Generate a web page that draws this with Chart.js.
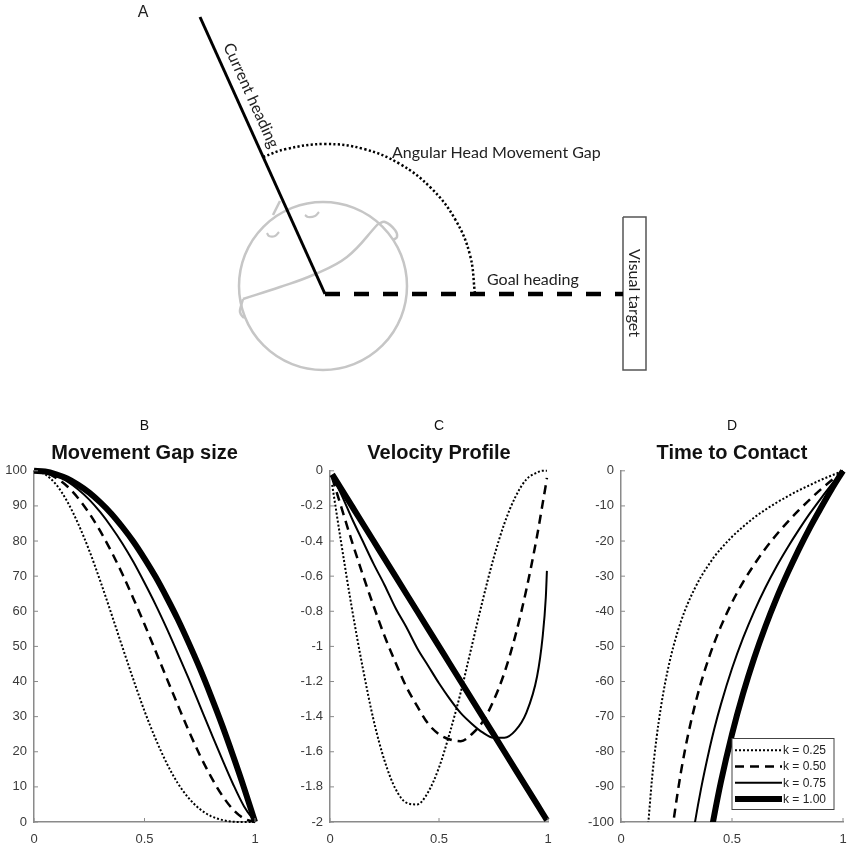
<!DOCTYPE html>
<html>
<head>
<meta charset="utf-8">
<title>Head movement gap panels</title>
<script src="https://cdn.jsdelivr.net/npm/chart.js@4.4.1/dist/chart.umd.min.js"></script>
<style>
  body { margin: 0; background: #fff; }
  #page { position: relative; width: 850px; height: 846px; overflow: hidden; background: #fff; }
  #page canvas { position: absolute; }
</style>
</head>
<body>
<div id="page">
  <canvas id="diagram" width="850" height="400" style="left:0;top:0"></canvas>
  <canvas id="gapChart" width="268" height="436" style="left:-6px;top:410px"></canvas>
  <canvas id="velChart" width="265" height="436" style="left:290px;top:410px"></canvas>
  <canvas id="ttcChart" width="269" height="436" style="left:581px;top:410px"></canvas>
</div>
<script>
Chart.defaults.font.family = "'Liberation Sans', Arial, sans-serif";
Chart.defaults.color = "#3a3a3a";

const kLabels = ['k = 0.25', 'k = 0.50', 'k = 0.75', 'k = 1.00'];

// B - movement gap size
const timeB = [0, 0.05, 0.1, 0.15, 0.2, 0.25, 0.3, 0.35, 0.4, 0.45, 0.5, 0.55, 0.6, 0.65, 0.7, 0.75, 0.8, 0.85, 0.9, 0.95, 1];
const gapK025 = [100, 99.0, 96.1, 91.3, 84.9, 77.3, 68.6, 59.3, 49.8, 40.5, 31.6, 23.7, 16.8, 11.1, 6.8, 3.7, 1.7, 0.6, 0.1, 0, 0];
const gapK050 = [100, 99.5, 98.0, 95.6, 92.2, 87.9, 82.8, 77.0, 70.6, 63.6, 56.3, 48.7, 41.0, 33.4, 26.0, 19.1, 13.0, 7.7, 3.6, 1.0, 0];
const gapK075 = [100, 99.7, 98.7, 97.0, 94.7, 91.8, 88.2, 84.0, 79.3, 74.0, 68.1, 61.9, 55.2, 48.1, 40.8, 33.2, 25.6, 18.1, 10.9, 4.5, 0];
const gapK100 = [100, 99.8, 99.0, 97.8, 96.0, 93.8, 91.0, 87.8, 84.0, 79.8, 75.0, 69.8, 64.0, 57.8, 51.0, 43.8, 36.0, 27.8, 19.0, 9.8, 0];

// C - velocity profile
const timeC = [0.01, 0.05, 0.1, 0.15, 0.2, 0.25, 0.3, 0.35, 0.4, 0.45, 0.5, 0.55, 0.6, 0.65, 0.7, 0.75, 0.8, 0.85, 0.9, 0.95, 0.975, 0.99, 0.995];
const velK025 = [-0.08, -0.40, -0.78, -1.12, -1.42, -1.65, -1.81, -1.89, -1.90, -1.83, -1.69, -1.49, -1.26, -1.00, -0.74, -0.50, -0.30, -0.15, -0.05, -0.01, 0, 0, 0];
const velK050 = [-0.04, -0.20, -0.40, -0.59, -0.77, -0.94, -1.09, -1.23, -1.34, -1.44, -1.50, -1.53, -1.54, -1.50, -1.43, -1.31, -1.15, -0.94, -0.68, -0.37, -0.19, -0.08, -0.04];
const velK075 = [-0.03, -0.13, -0.27, -0.40, -0.53, -0.65, -0.78, -0.89, -1.01, -1.11, -1.21, -1.30, -1.38, -1.44, -1.49, -1.52, -1.52, -1.48, -1.38, -1.17, -0.95, -0.72, -0.57];
const velK100 = [-0.02, -0.10, -0.20, -0.30, -0.40, -0.50, -0.60, -0.70, -0.80, -0.90, -1.00, -1.10, -1.20, -1.30, -1.40, -1.50, -1.60, -1.70, -1.80, -1.90, -1.95, -1.98, -1.99];

// D - time to contact
const timeD = [0.12, 0.14, 0.16, 0.18, 0.2, 0.22, 0.24, 0.27, 0.3, 0.33, 0.36, 0.4, 0.42, 0.45, 0.5, 0.55, 0.6, 0.65, 0.7, 0.75, 0.8, 0.85, 0.9, 0.95, 1];
const ttcK025 = [-102.7, -87.5, -76.1, -67.2, -60.0, -54.1, -49.1, -42.9, -37.9, -33.8, -30.2, -26.3, -24.5, -22.2, -18.8, -15.9, -13.3, -11.1, -9.1, -7.3, -5.6, -4.1, -2.6, -1.3, 0];
const ttcK050 = [null, null, null, null, -120.0, -108.1, -98.2, -85.8, -75.8, -67.5, -60.4, -52.5, -49.0, -44.3, -37.5, -31.7, -26.7, -22.2, -18.2, -14.6, -11.3, -8.2, -5.3, -2.6, 0];
const ttcK075 = [null, null, null, null, null, null, null, -128.8, -113.7, -101.3, -90.7, -78.8, -73.5, -66.5, -56.3, -47.6, -40.0, -33.3, -27.3, -21.9, -16.9, -12.2, -7.9, -3.8, 0];
const ttcK100 = [null, null, null, null, null, null, null, null, null, -135.0, -120.9, -105.0, -98.1, -88.6, -75.0, -63.4, -53.3, -44.4, -36.4, -29.2, -22.5, -16.3, -10.6, -5.1, 0];

// A - sketch, in its own 850 x 400 units
const headingCurrent = [[200, 17], [325, 294]];
const headingGoal = [[325, 294], [623, 294]];
const gapArc = [[263, 157], [286, 149], [325, 144], [364, 149], [400, 164], [431, 188], [455, 219], [470, 255], [475, 294]];
const headCentre = [[323, 286]];
const headBand = [[243, 299], [280, 287], [313, 275], [347, 257], [378, 224]];
const earRight = [[378, 224], [385, 222], [395, 230], [397, 237], [393, 240]];
const earLeft = [[243, 299], [241, 306], [240, 312], [243, 317], [246, 317]];
const noseMark = [[273, 215], [277, 207], [280, 201]];
const eyeLeft = [[267, 233], [269, 236], [275, 236], [279, 232]];
const eyeRight = [[305, 215], [308, 217], [315, 216], [319, 212]];
const targetBox = [[623, 217], [646, 217], [646, 370], [623, 370], [623, 217]];

const axisGray = '#8a8a8a';
const headGray = '#c6c6c6';

// line looks shared by the three plots (k = 0.25 .. 1.00)
const kStyles = [
  { borderWidth: 2, borderDash: [2, 2] },
  { borderWidth: 2.5, borderDash: [9, 6] },
  { borderWidth: 2, borderDash: [] },
  { borderWidth: 6, borderDash: [] }
];

function pts(xs, ys) {
  return xs.map((x, i) => ({ x: x, y: ys[i] }));
}

function kSets(xs, series) {
  return series.map((ys, i) => ({
    label: kLabels[i],
    data: pts(xs, ys),
    borderColor: '#000',
    borderWidth: kStyles[i].borderWidth,
    borderDash: kStyles[i].borderDash,
    pointRadius: 0,
    fill: false,
    tension: 0.4,
    cubicInterpolationMode: 'monotone'
  }));
}

const inwardTicks = {
  id: 'inwardTicks',
  afterDraw(chart) {
    const { ctx, chartArea, scales } = chart;
    ctx.save();
    ctx.strokeStyle = axisGray;
    ctx.lineWidth = 1;
    ctx.beginPath();
    scales.x.ticks.forEach(t => {
      const px = scales.x.getPixelForValue(t.value);
      ctx.moveTo(px, chartArea.bottom);
      ctx.lineTo(px, chartArea.bottom - 4);
    });
    scales.y.ticks.forEach(t => {
      const py = scales.y.getPixelForValue(t.value);
      ctx.moveTo(chartArea.left, py);
      ctx.lineTo(chartArea.left + 4, py);
    });
    ctx.stroke();
    ctx.restore();
  }
};

const boxLegend = {
  id: 'boxLegend',
  afterDraw(chart) {
    const { ctx, chartArea } = chart;
    const w = 102, h = 71;
    const left = chartArea.right - 9 - w;
    const top = chartArea.bottom - 12.5 - h;
    ctx.save();
    ctx.fillStyle = '#fff';
    ctx.fillRect(left, top, w, h);
    ctx.strokeStyle = '#444';
    ctx.lineWidth = 1;
    ctx.strokeRect(left, top, w, h);
    chart.data.datasets.forEach((ds, i) => {
      const y = top + 11.7 + i * 16.3;
      ctx.strokeStyle = ds.borderColor;
      ctx.lineWidth = ds.borderWidth;
      ctx.setLineDash(ds.borderDash);
      ctx.beginPath();
      ctx.moveTo(left + 3, y);
      ctx.lineTo(left + 50, y);
      ctx.stroke();
      ctx.setLineDash([]);
      ctx.fillStyle = '#222';
      ctx.font = "12px 'Liberation Sans', Arial, sans-serif";
      ctx.textBaseline = 'middle';
      ctx.fillText(ds.label, left + 51, y + 0.5);
    });
    ctx.restore();
  }
};

function panelOptions(letter, title, yMin, yMax, yStep, clip) {
  return {
    responsive: false,
    animation: false,
    clip: clip,
    layout: { autoPadding: false, padding: { left: 0, right: 7, top: 8, bottom: 0 } },
    plugins: {
      legend: { display: false },
      tooltip: { enabled: false },
      title: {
        display: true, text: letter, fullSize: false, color: '#111',
        font: { size: 14, weight: 'normal' }, padding: { top: 0, bottom: 2 }
      },
      subtitle: {
        display: true, text: title, fullSize: false, color: '#111',
        font: { size: 20, weight: 'bold' }, padding: { top: 5, bottom: 5 }
      }
    },
    scales: {
      x: {
        type: 'linear', min: 0, max: 1,
        afterFit: s => { s.height = 24; },
        grid: { display: false, drawTicks: true, tickLength: 7 },
        border: { color: axisGray, width: 1.5 },
        ticks: {
          stepSize: 0.5, padding: 3, maxRotation: 0, font: { size: 13 },
          callback: v => String(+v.toFixed(2))
        }
      },
      y: {
        type: 'linear', min: yMin, max: yMax,
        afterFit: s => { s.width = 40; },
        grid: { display: false, drawTicks: false },
        border: { color: axisGray, width: 1.5 },
        ticks: {
          stepSize: yStep, padding: 7, font: { size: 13 },
          callback: v => String(+v.toFixed(2))
        }
      }
    }
  };
}

new Chart(document.getElementById('gapChart'), {
  type: 'line',
  data: { datasets: kSets(timeB, [gapK025, gapK050, gapK075, gapK100]) },
  options: panelOptions('B', 'Movement Gap size', 0, 100, 10, 4),
  plugins: [inwardTicks]
});

new Chart(document.getElementById('velChart'), {
  type: 'line',
  data: { datasets: kSets(timeC, [velK025, velK050, velK075, velK100]) },
  options: panelOptions('C', 'Velocity Profile', -2, 0, 0.2, 4),
  plugins: [inwardTicks]
});

new Chart(document.getElementById('ttcChart'), {
  type: 'line',
  data: { datasets: kSets(timeD, [ttcK025, ttcK050, ttcK075, ttcK100]) },
  options: panelOptions('D', 'Time to Contact', -100, 0, 10, { left: 0, right: 5, top: 5, bottom: 0 }),
  plugins: [inwardTicks, boxLegend]
});

// panel A sketch
function sketchLine(coords, color, width, dash, tension) {
  return {
    data: coords.map(c => ({ x: c[0], y: c[1] })),
    borderColor: color,
    borderWidth: width,
    borderDash: dash,
    pointRadius: 0,
    fill: false,
    tension: tension
  };
}

const sketchLabels = [
  { text: 'A', x: 143, y: 13, angle: 0, align: 'center', font: "16px 'Liberation Sans', Arial, sans-serif" },
  { text: 'Current heading', x: 251, y: 95.5, angle: Math.atan2(294 - 17, 325 - 200), align: 'center' },
  { text: 'Angular Head Movement Gap', x: 392, y: 153, angle: 0, align: 'left' },
  { text: 'Goal heading', x: 487, y: 280, angle: 0, align: 'left' },
  { text: 'Visual target', x: 634.5, y: 293, angle: Math.PI / 2, align: 'center' }
];

const sketchText = {
  id: 'sketchText',
  afterDatasetsDraw(chart) {
    const { ctx, scales } = chart;
    ctx.save();
    ctx.fillStyle = '#222';
    ctx.textBaseline = 'middle';
    sketchLabels.forEach(l => {
      ctx.save();
      ctx.translate(scales.x.getPixelForValue(l.x), scales.y.getPixelForValue(l.y));
      ctx.rotate(l.angle);
      ctx.font = l.font || "16px Lato, 'Open Sans', sans-serif";
      ctx.textAlign = l.align;
      ctx.fillText(l.text, 0, 0);
      ctx.restore();
    });
    ctx.restore();
  }
};

const headPoint = {
  data: headCentre.map(c => ({ x: c[0], y: c[1] })),
  showLine: false,
  pointRadius: 84,
  pointBorderWidth: 2.5,
  pointBorderColor: headGray,
  pointBackgroundColor: 'rgba(0,0,0,0)'
};

new Chart(document.getElementById('diagram'), {
  type: 'line',
  data: {
    datasets: [
      sketchLine(headingCurrent, '#000', 3, [], 0),
      sketchLine(headingGoal, '#000', 4.5, [15, 14], 0),
      sketchLine(gapArc, '#000', 2.5, [2.2, 2.3], 0.4),
      sketchLine(targetBox, '#555', 1.5, [], 0),
      sketchLine(headBand, headGray, 2.5, [], 0.4),
      sketchLine(earRight, headGray, 2.5, [], 0.4),
      sketchLine(earLeft, headGray, 2.5, [], 0.4),
      sketchLine(noseMark, headGray, 2.5, [], 0.4),
      sketchLine(eyeLeft, headGray, 2.2, [], 0.4),
      sketchLine(eyeRight, headGray, 2.2, [], 0.4),
      headPoint
    ]
  },
  options: {
    responsive: false,
    animation: false,
    layout: { autoPadding: false, padding: 0 },
    plugins: { legend: { display: false }, tooltip: { enabled: false } },
    scales: {
      x: { type: 'linear', min: 0, max: 850, display: false },
      y: { type: 'linear', min: 0, max: 400, reverse: true, display: false }
    }
  },
  plugins: [sketchText]
});
</script>
</body>
</html>
